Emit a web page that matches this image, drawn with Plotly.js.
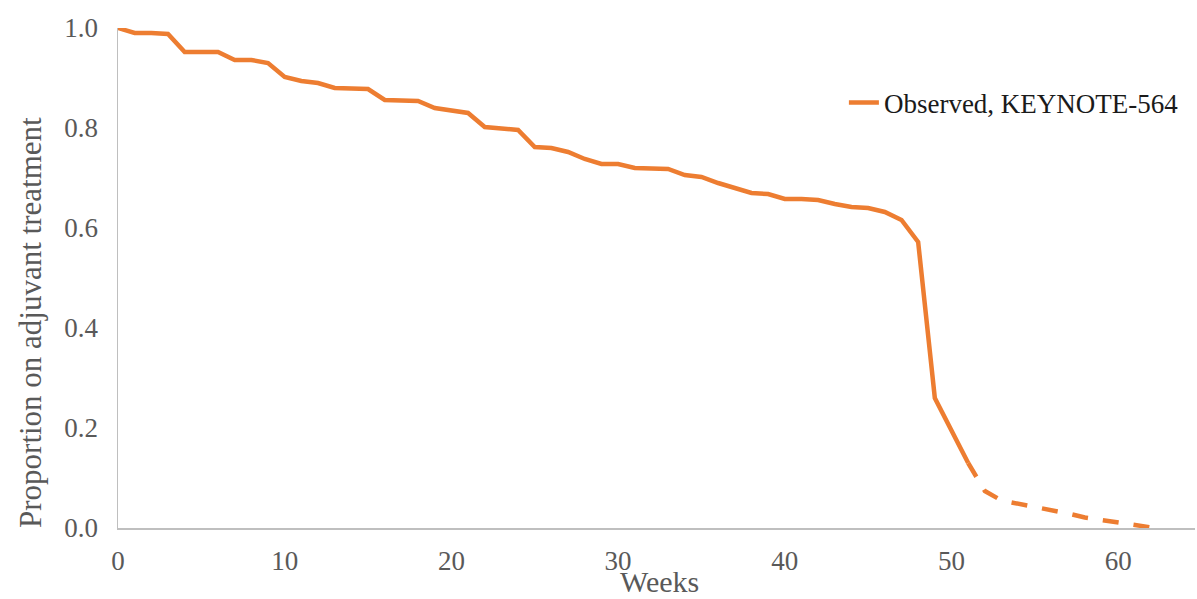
<!DOCTYPE html>
<html>
<head>
<meta charset="utf-8">
<script src="https://cdn.plot.ly/plotly-3.0.1.min.js"></script>
<style>html,body{margin:0;padding:0;background:#fff;}#chart{width:1197px;height:599px;}</style>
</head>
<body>
<div id="chart"></div>
<script>
// Observed (solid) part
const weeksObserved = [0,1,2,3,4,5,6,7,8,9,10,11,12,13,14,15,16,17,18,19,20,21,22,23,24,25,26,27,28,29,30,31,32,33,34,35,36,37,38,39,40,41,42,43,44,45,46,47,48,49,50,51];
const propObserved = [1.0,0.99,0.99,0.988,0.952,0.952,0.952,0.936,0.936,0.93,0.902,0.894,0.89,0.88,0.88,0.878,0.856,0.854,0.854,0.84,0.834,0.83,0.802,0.8,0.796,0.762,0.76,0.752,0.738,0.728,0.728,0.72,0.718,0.718,0.706,0.702,0.69,0.68,0.67,0.668,0.658,0.658,0.656,0.648,0.642,0.64,0.632,0.616,0.572,0.26,0.196,0.13];
// Tail (dashed) part
const weeksTail = [51,52,53,54,55,56,57,58,59,60,61,62];
const propTail = [0.13,0.074,0.055,0.049,0.041,0.035,0.029,0.021,0.016,0.013,0.006,0.001];
const xTicks = [0,10,20,30,40,50,60];
const yTicks = [0.0,0.2,0.4,0.6,0.8,1.0];
const seriesName = "Observed, KEYNOTE-564";

const orange = "#ED7D31";
const serif = "Liberation Serif, Times New Roman, serif";

const traces = [
  {x: weeksObserved, y: propObserved, type: "scatter", mode: "lines", name: seriesName,
   line: {color: orange, width: 4.5}, cliponaxis: false},
  {x: weeksTail, y: propTail, type: "scatter", mode: "lines", showlegend: false,
   line: {color: orange, width: 4.5, dash: "16px,15px"}, cliponaxis: false}
];

const L = 118, R = 2, T = 28, B = 71;
const W = 1197, H = 599;
const pw = W - L - R, ph = H - T - B;

const layout = {
  width: W, height: H,
  margin: {l: L, r: R, t: T, b: B, pad: 0},
  paper_bgcolor: "#fff", plot_bgcolor: "#fff",
  showlegend: true,
  legend: {x: 0.674, y: 0.85, xanchor: "left", yanchor: "middle",
    font: {family: serif, size: 27, color: "#1a1a1a"}, bgcolor: "rgba(0,0,0,0)"},
  xaxis: {range: [0, pw / 16.67], tickvals: xTicks, ticktext: xTicks.map(String),
    showgrid: false, zeroline: false, showline: true, linecolor: "#BFBFBF", linewidth: 1.5,
    ticks: "", ticklabelstandoff: 8, tickfont: {family: serif, size: 27, color: "#595959"}, fixedrange: true},
  yaxis: {range: [0, 1.0], tickvals: yTicks, ticktext: yTicks.map(v => v.toFixed(1)),
    showgrid: false, zeroline: false, showline: true, linecolor: "#BFBFBF", linewidth: 1.5,
    ticks: "", ticklabelstandoff: 13, tickfont: {family: serif, size: 27, color: "#595959"}, fixedrange: true},
  annotations: [
    {text: "Weeks", xref: "paper", yref: "paper", x: (659 - L) / pw, y: -(581 - (T + ph)) / ph,
     xanchor: "center", yanchor: "middle", showarrow: false, borderpad: 0,
     font: {family: serif, size: 30, color: "#595959"}},
    {text: "Proportion on adjuvant treatment", xref: "paper", yref: "paper",
     x: (30 - L) / pw, y: ((T + ph) - 323) / ph, textangle: -90,
     xanchor: "center", yanchor: "middle", showarrow: false,
     font: {family: serif, size: 31, color: "#595959"}}
  ]
};

Plotly.newPlot("chart", traces, layout, {displayModeBar: false, staticPlot: true});
</script>
</body>
</html>
